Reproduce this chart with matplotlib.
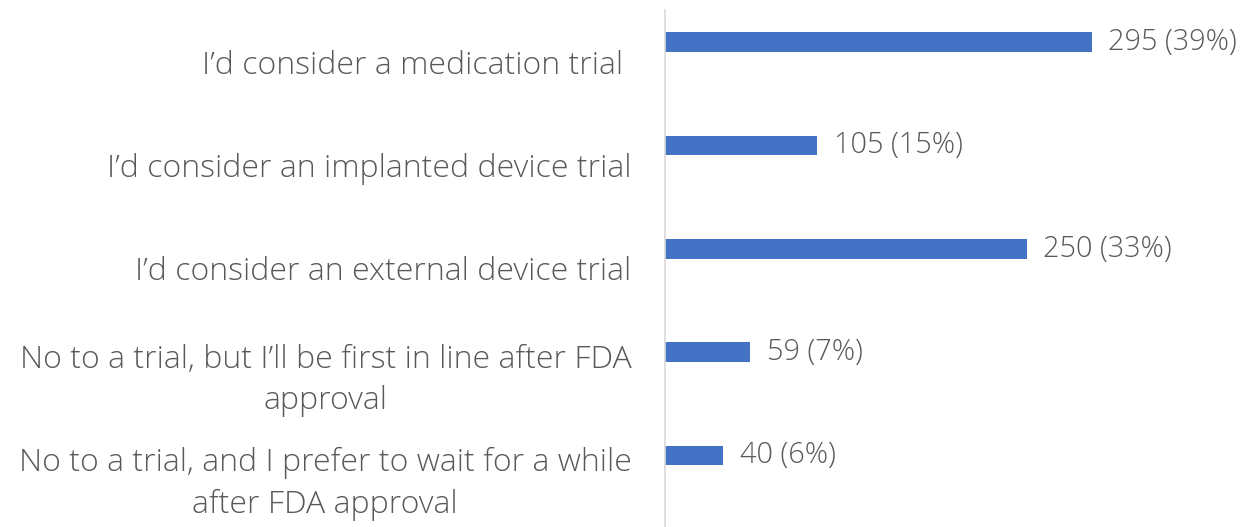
import matplotlib
matplotlib.use("Agg")
import matplotlib.pyplot as plt

categories = [
    "I\u2019d consider a medication trial ",
    "I\u2019d consider an implanted device trial",
    "I\u2019d consider an external device trial",
    "No to a trial, but I\u2019ll be first in line after FDA\napproval",
    "No to a trial, and I prefer to wait for a while\nafter FDA approval",
]
counts = [295, 105, 250, 59, 40]
percents = [39, 15, 33, 7, 6]

plt.rcParams['font.family'] = ['Open Sans', 'DejaVu Sans']
text_color = "#595959"
bar_color = "#4472C4"

fig = plt.figure(figsize=(12.48, 5.27), dpi=100)
ax = fig.add_axes([665/1248, 0.0, (1235-665)/1248, 1 - 10/527])

pos = list(range(len(categories)))
bar_h = 0.19
bar_pos = [p - 0.19 for p in pos]
ax.barh(bar_pos, counts, height=bar_h, color=bar_color)

for y, c, p in zip(bar_pos, counts, percents):
    ax.annotate(f"{c} ({p}%)", xy=(c, y), xytext=(12, 0), textcoords="offset points",
                va="center", ha="left", fontsize=20.8, color=text_color, fontweight="light")

ax.set_xlim(0, 394)
ax.set_ylim(len(categories) - 0.5, -0.5)
ax.set_yticks(pos)
ax.set_yticklabels(categories, fontsize=23, color=text_color, multialignment="center",
                   linespacing=1.38, fontweight="light")
ax.tick_params(axis="y", length=0, pad=24)
ax.set_xticks([])
for s in ["top", "right", "bottom"]:
    ax.spines[s].set_visible(False)
ax.spines["left"].set_color("#D9D9D9")
ax.spines["left"].set_linewidth(1.2)
ax.patch.set_alpha(0)

fig.savefig("out.png", dpi=100)
